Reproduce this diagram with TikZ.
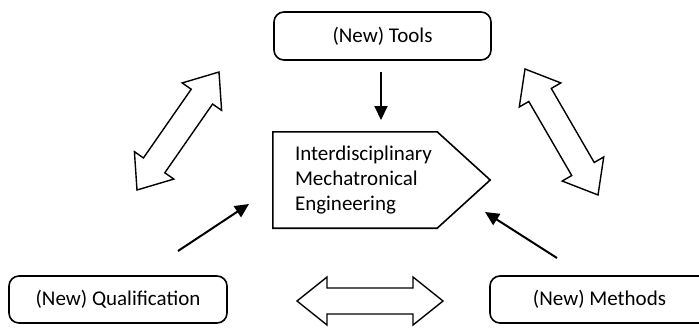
\documentclass[tikz,border=0pt]{standalone}
\usepackage{fontspec}
\setmainfont{Carlito}
\usetikzlibrary{arrows.meta}

% double-headed block arrow: #1 start point, #2 angle, #3 length
\newcommand\blockdbl[3]{%
  \draw[blockline,shift={#1},rotate=#2]
    (0,0) -- (30,24) -- (30,13) -- (#3-30,13) -- (#3-30,24) -- (#3,0)
    -- (#3-30,-24) -- (#3-30,-13) -- (30,-13) -- (30,-24) -- cycle;}

\begin{document}
\begin{tikzpicture}[x=1pt,y=-1pt,
  every node/.style={font=\fontsize{21}{25}\selectfont},
  roundbox/.style={draw,line width=1.6pt,rounded corners=10pt,
    minimum height=48pt,inner sep=0pt},
  blockline/.style={draw,line width=1.4pt,line join=miter},
  flow/.style={line width=2pt,-{Triangle[length=14pt,width=13pt]}}]
\useasboundingbox (0,0) rectangle (699,327);
\clip (0,0) rectangle (699,327);

% boxes
\node[roundbox,minimum width=217pt] (tools) at (382.5,36) {(New) Tools};
\node[roundbox,minimum width=218pt,minimum height=47pt] (qual) at (118,299.5) {(New) Qualification};
\node[roundbox,minimum width=219pt,minimum height=47pt] (meth) at (599.5,299.5) {(New) Methods};

% central pentagon
\node[minimum width=217pt,minimum height=96pt,inner xsep=22pt,inner ysep=0pt,
  text width=173pt,align=left] (eng) at (381.5,180)
  {Interdisciplinary\\Mechatronical\\Engineering};
\draw[line width=1.6pt,line join=miter]
  (eng.north west) -- ([xshift=-53pt]eng.north east) -- (eng.east)
  -- ([xshift=-53pt]eng.south east) -- (eng.south west) -- cycle;

% arrows into the centre
\coordinate (t1) at (381,72);   \coordinate (t2) at (381,120);
\coordinate (q1) at (178,251);  \coordinate (q2) at (249,204);
\coordinate (m1) at (557,258);  \coordinate (m2) at (485,212);
\draw[flow] (t1) -- (t2);
\draw[flow] (q1) -- (q2);
\draw[flow] (m1) -- (m2);

% exchange arrows between the outer boxes
\blockdbl{(137,190)}{55.2}{143.7}
\blockdbl{(525,69)}{-59.9}{145.6}
\blockdbl{(297,301)}{0}{146}
\end{tikzpicture}
\end{document}
